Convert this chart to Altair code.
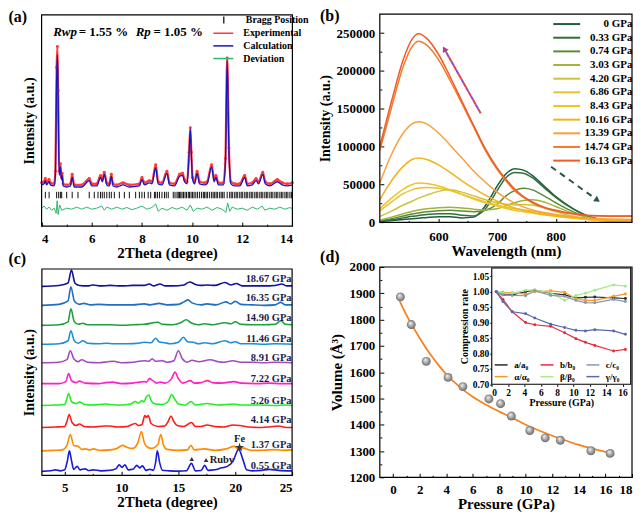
import altair as alt
import pandas as pd

FONT = "Liberation Serif"

# ---------------- (a) Rietveld refinement ----------------
a_line_names = ["Experimental", "Calculation", "Deviation"]
a_line_colors = ["#ff3b3b", "#1515c8", "#2db86e"]
a_bragg_name = ["Bragg Position"]
# (2theta, calculation, experimental)
a_profile = [
    (4.00, 19.5, 20.5), (4.10, 20.0, 21.0), (4.15, 21.5, 22.5), (4.20, 19.5, 20.5), (4.30, 21.0, 22.0),
    (4.35, 19.5, 20.5), (4.50, 19.0, 20.0), (4.55, 24.0, 26.0), (4.60, 70.0, 75.0), (4.63, 81.0, 85.0),
    (4.66, 60.0, 64.0), (4.70, 24.0, 26.0), (4.75, 28.0, 29.5), (4.79, 22.0, 23.0), (4.82, 24.0, 25.0),
    (4.86, 19.0, 20.0), (5.00, 18.5, 19.5), (5.15, 19.0, 20.0), (5.22, 23.0, 24.5), (5.30, 18.5, 19.5),
    (5.60, 18.5, 19.5), (5.90, 21.5, 22.5), (6.00, 19.0, 20.0), (6.20, 19.0, 20.0), (6.35, 23.0, 24.0),
    (6.42, 21.0, 22.0), (6.50, 24.5, 25.5), (6.60, 19.5, 20.5), (6.70, 19.0, 20.0), (6.78, 23.5, 24.5),
    (6.85, 19.0, 20.0), (7.00, 18.5, 19.5), (7.25, 19.5, 20.5), (7.50, 18.5, 19.5), (7.90, 19.0, 20.0),
    (8.00, 22.0, 23.0), (8.10, 19.5, 20.5), (8.30, 20.5, 21.5), (8.40, 20.0, 21.0), (8.55, 27.5, 29.0),
    (8.65, 20.0, 21.0), (8.80, 19.5, 20.5), (9.00, 25.0, 26.0), (9.10, 19.5, 20.5), (9.30, 19.0, 20.0),
    (9.50, 23.5, 24.5), (9.62, 24.0, 25.0), (9.70, 21.0, 22.0), (9.80, 20.0, 21.0), (9.88, 34.0, 35.0),
    (9.93, 46.0, 46.5), (9.97, 34.0, 35.0), (10.02, 22.0, 23.0), (10.10, 20.0, 21.0), (10.20, 25.0, 26.0),
    (10.30, 20.0, 21.0), (10.50, 19.5, 20.5), (10.60, 20.0, 21.0), (10.78, 28.0, 29.0), (10.88, 21.0, 22.0),
    (10.95, 23.0, 24.0), (11.05, 19.5, 20.5), (11.25, 19.5, 20.5), (11.33, 30.0, 32.0), (11.40, 78.5, 79.5),
    (11.47, 35.0, 37.0), (11.55, 20.0, 21.0), (11.70, 19.0, 20.0), (11.90, 19.0, 20.0), (12.10, 23.0, 24.0),
    (12.20, 19.0, 20.0), (12.40, 19.5, 20.5), (12.55, 21.5, 22.5), (12.65, 20.0, 21.0), (12.82, 24.5, 25.5),
    (12.92, 20.0, 21.0), (13.10, 19.0, 20.0), (13.40, 21.0, 22.0), (13.60, 19.5, 20.5), (13.80, 19.0, 20.0),
    (14.00, 19.5, 20.5),
]
a_deviation = [
    (4.0, 8.5), (4.1, 9.5), (4.2, 8.0), (4.3, 9.0), (4.4, 7.5), (4.5, 8.5), (4.58, 6.0), (4.62, 12.0),
    (4.66, 5.5), (4.72, 10.0), (4.8, 7.5), (5.0, 8.5), (5.2, 8.0), (5.4, 9.0), (5.6, 8.0), (5.8, 9.0),
    (6.0, 8.0), (6.2, 8.5), (6.4, 9.5), (6.5, 7.5), (6.6, 9.0), (6.8, 8.0), (7.0, 9.0), (7.2, 8.0),
    (7.4, 8.8), (7.6, 7.8), (7.8, 8.5), (8.0, 9.5), (8.2, 8.0), (8.4, 8.8), (8.55, 10.5), (8.65, 7.0),
    (8.8, 8.5), (9.0, 7.5), (9.2, 8.8), (9.4, 8.0), (9.6, 9.0), (9.8, 7.5), (9.93, 10.0), (10.05, 7.0),
    (10.2, 8.5), (10.4, 8.0), (10.6, 9.0), (10.8, 7.5), (11.0, 8.8), (11.2, 8.0), (11.35, 6.5),
    (11.42, 11.0), (11.5, 7.0), (11.6, 9.0), (11.8, 8.0), (12.0, 8.5), (12.2, 7.5), (12.4, 9.0),
    (12.6, 8.0), (12.8, 9.5), (12.9, 7.5), (13.1, 8.5), (13.3, 8.0), (13.5, 9.0), (13.7, 8.0),
    (13.9, 8.8), (14.0, 8.2),
]
a_bragg = [
    4.15, 4.30, 4.60, 4.68, 4.75, 4.80, 5.00, 5.22, 5.45, 5.90, 6.10, 6.25, 6.35, 6.42, 6.50, 6.60,
    6.70, 6.78, 6.90, 7.10, 7.30, 7.50, 7.75, 7.90, 8.00, 8.10, 8.25, 8.35, 8.50, 8.55, 8.62, 8.70,
    8.80, 8.90, 8.97, 9.05, 9.25, 9.32, 9.40, 9.45, 9.50, 9.55, 9.60, 9.66, 9.72, 9.78, 9.85, 9.90,
    9.96, 10.02, 10.08, 10.15, 10.22, 10.30, 10.38, 10.45, 10.50, 10.56, 10.62, 10.70, 10.78, 10.84,
    10.90, 10.96, 11.02, 11.10, 11.16, 11.22, 11.28, 11.40, 11.50, 11.56, 11.62, 11.70, 11.76, 11.82,
    11.90, 11.96, 12.02, 12.10, 12.16, 12.22, 12.30, 12.36, 12.42, 12.50, 12.56, 12.62, 12.70, 12.76,
    12.82, 12.90, 12.96, 13.02, 13.10, 13.16, 13.22, 13.30, 13.36, 13.42, 13.50, 13.56, 13.62, 13.70,
    13.76, 13.82, 13.90, 13.96,
]
a_bragg_level = 14.7
a_stats = [("Rwp", "= 1.55 %"), ("Rp", "= 1.05 %")]
a_stats_x = [(4.46, 5.48), (7.75, 8.46)]
a_stats_y = 91.7

# ---------------- (b) photoluminescence ----------------
b_nm = [500, 520, 540, 555, 566, 580, 600, 620, 640, 660, 680, 700, 715, 730, 745, 760, 780, 800, 830, 860, 890, 930]
b_p0 = [1000, 2500, 4000, 5000, 5500, 6500, 7500, 7500, 6000, 7000, 22000, 48000, 64000, 71000, 69000, 62000, 48000, 34000, 18000, 7000, 2500, 1000]
b_p033 = [1500, 3500, 6000, 8000, 9000, 10500, 11500, 11500, 9500, 8500, 18000, 42000, 59000, 66000, 65000, 59000, 46000, 33000, 17500, 7000, 2500, 1000]
b_p074 = [2000, 5000, 8500, 11000, 12500, 14000, 15500, 16000, 15000, 14000, 16000, 24000, 35000, 42000, 45000, 43000, 35000, 26000, 14000, 6000, 2500, 1000]
b_p303 = [3000, 7000, 11500, 14500, 16500, 18000, 19500, 20000, 19000, 17500, 16500, 18000, 22000, 26000, 29000, 30000, 27000, 21000, 12000, 5500, 2500, 1000]
b_p420 = [8000, 15000, 23000, 28000, 32000, 36000, 41000, 43000, 40000, 35000, 30000, 26000, 24000, 23000, 23500, 23000, 19000, 14000, 8000, 4000, 2000, 1000]
b_p686 = [15000, 27000, 38000, 43000, 45500, 46000, 45000, 42000, 37000, 32000, 27000, 23000, 20000, 18000, 16500, 15000, 12000, 9500, 6000, 3500, 2000, 1500]
b_p843 = [18000, 32000, 44000, 50000, 52000, 51500, 48000, 43000, 37000, 31000, 26000, 21500, 18500, 16000, 14000, 12500, 10000, 8000, 5500, 3500, 2500, 2000]
b_p1016 = [30000, 55000, 74000, 83000, 85000, 83000, 76000, 66000, 55000, 45000, 36000, 28000, 23000, 19000, 16000, 13500, 10500, 8500, 6000, 4000, 3000, 2500]
b_p1339 = [52000, 90000, 118000, 130000, 133000, 130000, 118000, 102000, 85000, 68000, 53000, 40000, 32000, 25500, 20500, 16500, 13000, 10500, 7500, 5500, 4500, 4000]
b_p1474 = [95000, 152000, 206000, 232000, 239000, 234000, 215000, 187000, 157000, 126000, 95000, 70000, 55000, 42000, 33000, 26000, 19500, 15500, 11000, 8800, 8300, 8300]
b_p1613 = [100000, 160000, 215000, 242000, 249000, 243000, 222000, 192000, 160000, 128000, 97000, 72000, 57000, 44000, 34000, 27000, 20000, 16000, 11500, 9000, 8500, 8500]
b_names = ["0 GPa", "0.33 GPa", "0.74 GPa", "3.03 GPa", "4.20 GPa", "6.86 GPa", "8.43 GPa",
           "10.16 GPa", "13.39 GPa", "14.74 GPa", "16.13 GPa"]
b_series = [b_p0, b_p033, b_p074, b_p303, b_p420, b_p686, b_p843, b_p1016, b_p1339, b_p1474, b_p1613]
b_colors = ["#1d5e3c", "#2f6f3b", "#5c8c38", "#a2b23a", "#c9c43c", "#e6c232", "#f4c31c",
            "#f2b31a", "#f6a23c", "#f27a2c", "#f05a26"]
b_arrows = [  # (nm start, I start, nm end, I end)
    (672, 144000, 610, 229000),
    (792, 73500, 871, 29500),
]

# ---------------- (c) in-situ XRD ----------------
c_names = ["0.55 GPa", "1.37 GPa", "4.14 GPa", "5.26 GPa", "7.22 GPa", "8.91 GPa",
           "11.46 GPa", "14.90 GPa", "16.35 GPa", "18.67 GPa"]
c_colors = ["#1a1ad8", "#ff8a00", "#ff1a1a", "#22ee22", "#ff1ec8", "#a04cc0",
            "#1e8fd0", "#1fa03c", "#1f6fc4", "#12129a"]
c_offsets = [3, 24, 47, 69, 91, 112, 131, 150, 170, 189]
c_label_y = [9, 30, 55, 75, 97, 118, 137, 158, 178, 197]
c_p055 = [(3, 1), (3.8, 1.5), (4.2, 2.5), (4.6, 1.5), (5.0, 2.5), (5.25, 12), (5.42, 21.5), (5.6, 12), (5.8, 3),
          (6.1, 6), (6.35, 2.5), (6.8, 3.5), (7.1, 1.8), (7.5, 2.5), (8.2, 1.5), (9.0, 2), (9.5, 3.5), (9.8, 7.5),
          (10.05, 5), (10.3, 7.5), (10.6, 2.5), (11.0, 3), (11.35, 7), (11.6, 4.5), (11.85, 6.5), (12.15, 2),
          (12.5, 3), (12.8, 2), (13.0, 10), (13.15, 21.5), (13.35, 10), (13.6, 2), (14.2, 1.5), (15.0, 1.2),
          (15.7, 1.5), (16.15, 9), (16.5, 1.5), (17.0, 1.8), (17.32, 7), (17.6, 2), (18.2, 2.5), (18.8, 4.5),
          (19.3, 6), (19.8, 11), (20.3, 23), (20.7, 12), (21.0, 2.5), (21.5, 1.5), (22.3, 2), (23.0, 3),
          (23.8, 2), (25, 1.5)]
c_p137 = [(3, 0.5), (4, 1), (4.8, 1.5), (5.2, 6), (5.5, 17), (5.8, 6), (6.2, 5), (6.5, 2), (6.85, 2.5), (7.2, 1.5),
          (7.5, 2.5), (8.2, 1), (9.0, 1.5), (9.6, 3), (10.1, 6), (10.5, 4), (11.0, 3), (11.45, 9), (11.75, 20),
          (12.0, 9), (12.2, 5), (12.6, 3), (13.2, 7), (13.45, 17), (13.7, 6), (14.0, 2), (15.0, 1), (15.8, 1.5),
          (16.1, 6), (16.4, 1.5), (17.3, 2.5), (18.2, 1), (19.2, 2.5), (19.9, 5), (20.2, 3), (20.6, 3.5),
          (21.5, 1), (22.5, 1.2), (23.5, 1.8), (24.2, 1), (25, 1.5)]
c_p414 = [(3, 1), (4.2, 1.5), (5.0, 2), (5.2, 7), (5.4, 14), (5.65, 6), (6.0, 3), (6.3, 4.5), (6.7, 2), (7.5, 1.5),
          (8.5, 2.5), (9.0, 2.5), (9.6, 1.5), (10.5, 2), (11.2, 5), (11.5, 3), (11.8, 4), (12.05, 13), (12.2, 11),
          (12.35, 13), (12.6, 5), (13.2, 2), (13.8, 2.5), (14.1, 7), (14.35, 12.5), (14.6, 7), (14.9, 3),
          (15.5, 2), (16.15, 6), (16.5, 2), (17.0, 2), (17.5, 3.5), (18.2, 2), (19.0, 1.5), (19.8, 3.5),
          (20.4, 3), (21.2, 1.5), (22.3, 1), (23.0, 1.5), (23.8, 2.5), (24.5, 1), (25, 1)]
c_p526 = [(3, 1), (4.2, 1.5), (5.0, 2), (5.15, 6), (5.35, 13), (5.6, 5), (6.0, 3), (6.3, 4.5), (6.8, 2), (7.5, 1.5),
          (8.5, 2.5), (9.0, 2), (10.0, 1.5), (10.8, 2.5), (11.2, 5), (11.5, 3.5), (11.8, 6), (11.95, 4.5),
          (12.2, 10), (12.4, 11.5), (12.65, 5), (13.0, 2.5), (13.6, 2), (14.1, 5), (14.4, 12), (14.7, 7),
          (15.0, 2.5), (15.6, 1.5), (16.1, 5), (16.5, 1.5), (17.5, 3), (18.5, 1.5), (19.8, 2.5), (20.5, 1.5),
          (22, 1.5), (23.5, 1), (24.5, 1.5), (25, 1)]
c_p722 = [(3, 1), (4.5, 1), (5.1, 3), (5.35, 11), (5.6, 4), (6.0, 2), (6.3, 3.5), (6.8, 1.5), (8.0, 1), (8.6, 2),
          (9.2, 2.5), (10.0, 1), (11.0, 1.5), (11.6, 2.5), (12.0, 3), (12.2, 2.5), (12.45, 6), (12.75, 4),
          (13.1, 1.5), (13.4, 2.5), (13.8, 1.5), (14.4, 6), (14.7, 12.5), (15.0, 6), (15.4, 1.5), (16.05, 4),
          (16.4, 1.5), (17.0, 2), (17.55, 4), (18.0, 2), (18.8, 1.5), (19.9, 3), (20.5, 1.5), (22, 1),
          (23, 1.5), (24, 1), (25, 1)]
c_p891 = [(3, 1), (4.5, 1.5), (5.2, 4), (5.5, 13), (5.8, 5), (6.2, 2), (6.5, 4), (7.0, 1.5), (8.0, 1), (8.8, 2),
          (9.3, 2.5), (10.0, 1), (11.0, 1.5), (12.0, 3), (12.4, 2.5), (12.7, 5), (13.0, 2.5), (13.6, 3),
          (14.0, 1.5), (14.6, 3), (15.0, 13), (15.35, 5), (15.8, 1.5), (16.2, 3.5), (16.8, 2), (17.8, 4),
          (18.5, 2), (19.0, 1.5), (19.8, 3), (20.5, 1.5), (21.5, 1.5), (22.5, 1), (23.5, 1.5), (25, 1)]
c_p1146 = [(3, 0.5), (4.5, 1), (5.3, 4), (5.55, 14), (5.85, 4), (6.2, 1.5), (6.6, 4), (7.0, 1.5), (8.0, 1),
           (8.7, 1.5), (9.3, 1), (10.5, 1), (11.5, 1.5), (12.0, 2.5), (12.6, 2), (13.0, 6.5), (13.3, 3),
           (13.8, 2), (14.3, 1), (15.0, 2.5), (15.45, 7.5), (15.8, 3), (16.3, 2.5), (16.8, 1), (17.3, 2),
           (18.0, 1), (19.1, 4), (19.6, 2), (20.0, 3), (20.5, 1), (21.5, 1), (22.5, 0.5), (23.5, 1), (25, 0.5)]
c_p1490 = [(3, 0.5), (4.5, 1), (5.3, 4), (5.55, 17), (5.85, 4), (6.2, 1.5), (6.6, 2.5), (7.0, 1), (8.0, 1),
           (9.0, 1), (10.0, 0.5), (11.0, 1), (12.0, 1.5), (13.2, 3.5), (13.6, 1.5), (14.5, 1), (15.2, 3),
           (15.7, 6), (16.1, 3), (16.8, 1), (17.3, 2), (18.0, 1), (19.1, 3), (19.6, 2), (20.0, 4), (20.5, 1.5),
           (21.5, 1), (22.5, 1), (23.5, 1.5), (24.0, 5), (24.4, 1.5), (25, 1)]
c_p1635 = [(3, 0.5), (4.5, 1.5), (5.3, 5), (5.55, 19), (5.85, 5), (6.3, 1.5), (6.7, 2.5), (7.2, 1), (8.0, 1.5),
           (9.0, 1), (10.0, 1), (11.0, 1), (12.0, 2), (12.5, 1), (13.3, 2.5), (14.0, 1), (15.0, 1.5), (15.5, 4),
           (15.85, 6), (16.2, 3), (17.0, 1), (17.5, 2), (18.3, 1), (19.2, 4), (19.6, 2), (20.0, 4.5), (20.5, 1.5),
           (21.5, 1), (22.5, 0.5), (23.5, 1), (24.0, 3.5), (24.4, 1), (25, 1)]
c_p1867 = [(3, 0.5), (4.5, 1.5), (5.3, 4), (5.6, 17), (5.9, 4), (6.3, 1.5), (7.0, 1), (7.5, 2), (8.2, 1),
           (9.0, 1.5), (10.0, 1), (11.0, 1.5), (12.0, 1.5), (12.45, 3), (12.8, 1), (13.4, 3), (13.8, 1),
           (14.5, 1), (15.5, 2), (16.0, 5), (16.5, 2.5), (17.0, 1.5), (17.5, 2), (18.2, 1.5), (19.1, 4.5),
           (19.6, 2), (20.1, 3.5), (20.6, 1), (21.5, 1), (22.5, 1), (23.5, 1.5), (24.1, 3), (24.5, 1), (25, 1)]
c_series = [c_p055, c_p137, c_p414, c_p526, c_p722, c_p891, c_p1146, c_p1490, c_p1635, c_p1867]
c_ruby_x = [16.18, 17.44]
c_ruby_y = [16.3, 15.3]
c_fe = (20.38, 28.0)

# ---------------- (d) volume vs pressure ----------------
d_p = [0.55, 1.37, 2.5, 4.14, 5.26, 7.22, 8.1, 8.91, 10.3, 11.46, 12.6, 14.9, 16.35]
d_v = [1886, 1781, 1641, 1580, 1545, 1498, 1480, 1433, 1378, 1350, 1341, 1301, 1291]
d_fit_p = [0.5, 1, 1.5, 2, 2.5, 3, 3.5, 4, 5, 6, 7, 8, 9, 10, 11, 12, 13, 14, 15, 16, 16.4]
d_fit_v = [1870, 1818, 1772, 1730, 1690, 1655, 1622, 1592, 1545, 1506, 1476, 1450, 1426, 1400, 1378,
           1358, 1340, 1323, 1309, 1297, 1293]
in_p = [0.55, 1.37, 2.5, 4.14, 5.26, 7.22, 8.91, 10.3, 11.46, 12.6, 14.9, 16.35]
in_a = [1.000, 0.990, 0.990, 1.000, 1.005, 0.995, 0.990, 0.980, 0.982, 0.983, 0.980, 0.978]
in_b = [1.000, 0.975, 0.935, 0.900, 0.893, 0.888, 0.867, 0.848, 0.836, 0.826, 0.808, 0.813]
in_c = [1.000, 0.990, 0.988, 0.987, 1.003, 0.988, 0.985, 0.972, 0.965, 0.964, 0.975, 0.968]
in_al = [1.000, 0.998, 0.997, 0.992, 1.000, 1.003, 0.998, 0.978, 0.972, 0.972, 0.985, 0.993]
in_be = [1.000, 0.995, 0.995, 1.005, 1.005, 0.997, 0.972, 0.988, 0.995, 1.005, 1.022, 1.018]
in_ga = [1.000, 0.968, 0.935, 0.929, 0.915, 0.895, 0.884, 0.875, 0.873, 0.877, 0.873, 0.862]
# listed column by column so that the 3-column legend reads a, b, c / alpha, beta, gamma
in_names = ["a/a\u2080", "\u03b1/\u03b1\u2080", "b/b\u2080", "\u03b2/\u03b2\u2080", "c/c\u2080", "\u03b3/\u03b3\u2080"]
in_series = [in_a, in_al, in_b, in_be, in_c, in_ga]
in_colors = ["#2b2b2b", "#f39a28", "#ee2a3a", "#a6e88a", "#8a96b0", "#5a6aa8"]

# axis tick values (major / minor)
a_xt = ([4, 6, 8, 10, 12, 14], [5, 7, 9, 11, 13])
b_xt = ([600, 700, 800], [550, 650, 750, 850])
b_yt = ([0, 50000, 100000, 150000, 200000, 250000], [25000, 75000, 125000, 175000, 225000])
c_xt = ([5, 10, 15, 20, 25], [7.5, 12.5, 17.5, 22.5])
d_xt = (list(range(0, 19, 2)), list(range(1, 18, 2)))
d_yt = (list(range(1200, 2001, 100)), list(range(1250, 2000, 100)))

# panel labels, in each panel's own data units (placed outside the plot area)
lab_a = (2.68, 96.5)
lab_b = (398, 266000)
lab_c = (0.06, 212)
lab_d = (-5.5, 2020)

# ================= layout (pixels inside the single 628x506 view) =================
W, H = 628, 506
PA = dict(x=(33.7, 285.3), y=(218, 6))
PB = dict(x=(373, 626), y=(214.3, 5.3))
PC = dict(x=(34, 285), y=(468, 261))
PD = dict(x=(373, 626), y=(470, 259))
PI = dict(x=(485.3, 624.7), y=(376.7, 260))

BAR = "M0,-1L0,1"
HLINE = "M-2,0L2,0"
STAR = ("M0,-1L0.2245,-0.309L0.951,-0.309L0.363,0.118L0.588,0.809L0,0.382L-0.588,0.809"
        "L-0.363,0.118L-0.951,-0.309L-0.2245,-0.309Z")

lbl = dict(font=FONT, fontWeight="bold")


def xaxis(p, **kw):
    base = dict(orient="bottom", offset=p["y"][0] - H, domain=False, ticks=False, labelPadding=6,
                titlePadding=0)
    base.update(kw)
    return alt.Axis(**base)


def yaxis(p, **kw):
    base = dict(orient="left", offset=-p["x"][0], domain=False, ticks=False, labelPadding=5)
    base.update(kw)
    return alt.Axis(**base)


def frame(xf, yf, x0, x1, y0, y1, fill=None):
    df = pd.DataFrame({xf: [x0], xf + "2": [x1], yf: [y0], yf + "2": [y1]})
    if fill:
        return alt.Chart(df).mark_rect(fill=fill, stroke="black", strokeWidth=1.1)
    return alt.Chart(df).mark_rect(filled=False, stroke="black", strokeWidth=1.2)


def inward_ticks(p, xdom, ydom, xvals, yvals, size):
    """Invisible frame carrying tick-only axes that point into the plot."""
    df = pd.DataFrame({"tx": [xdom[0]], "tx2": [xdom[1]], "ty": [ydom[0]], "ty2": [ydom[1]]})
    tx = alt.X("tx:Q", scale=alt.Scale(domain=list(xdom), range=list(p["x"]), nice=False),
               axis=alt.Axis(orient="top", offset=-p["y"][0], values=xvals, labels=False, domain=False,
                             tickSize=size, tickColor="black", tickWidth=1, title=None, grid=False))
    if yvals:
        y_axis = alt.Axis(orient="right", offset=p["x"][0] - W, values=yvals, labels=False, domain=False,
                          tickSize=size, tickColor="black", tickWidth=1, title=None, grid=False)
    else:
        y_axis = None
    ty = alt.Y("ty:Q", scale=alt.Scale(domain=list(ydom), range=list(p["y"]), nice=False, zero=False),
               axis=y_axis)
    return alt.Chart(df).mark_rect(opacity=0).encode(x=tx, x2="tx2:Q", y=ty, y2="ty2:Q")


def panel_label(text, pos, ax, ay):
    df = pd.DataFrame({ax.shorthand.split(":")[0]: [pos[0]], ay.shorthand.split(":")[0]: [pos[1]], "t": [text]})
    return alt.Chart(df).mark_text(align="left", baseline="alphabetic", fontSize=16, color="black",
                                   **lbl).encode(x=ax, y=ay, text="t:N")


# ---- (a)
ax_a = alt.X("x:Q", scale=alt.Scale(domain=[4, 14], range=list(PA["x"]), nice=False),
             axis=xaxis(PA, values=a_xt[0], title="2Theta (degree)"))
ay_a = alt.Y("y:Q", scale=alt.Scale(domain=[0, 100], range=list(PA["y"]), nice=False),
             axis=yaxis(PA, labels=False, title="Intensity (a.u.)", titleFontSize=14, titlePadding=5))
leg_a = dict(title=None, orient="none", padding=0, labelFont=FONT, labelFontSize=10,
             labelFontWeight="bold", labelColor="black")
a_color = alt.Color("s:N", scale=alt.Scale(domain=a_line_names, range=a_line_colors),
                    legend=alt.Legend(legendX=205, legendY=18.5, symbolType=HLINE, symbolSize=100,
                                      symbolOffset=5, symbolStrokeWidth=1.5, labelOffset=14,
                                      rowPadding=1.7, **leg_a))
a_shape = alt.Shape("s:N", scale=alt.Scale(domain=a_bragg_name, range=[BAR]),
                    legend=alt.Legend(legendX=205, legendY=6.3, symbolSize=49, symbolOffset=6.5,
                                      symbolStrokeColor="black", symbolStrokeWidth=1.2,
                                      labelOffset=17, **leg_a))
df_exp = pd.DataFrame({"x": [p[0] for p in a_profile], "y": [p[2] for p in a_profile], "s": "Experimental"})
df_calc = pd.DataFrame({"x": [p[0] for p in a_profile], "y": [p[1] for p in a_profile], "s": "Calculation"})
df_dev = pd.DataFrame({"x": [p[0] for p in a_deviation], "y": [p[1] for p in a_deviation], "s": "Deviation"})
df_bragg = pd.DataFrame({"x": a_bragg, "y": a_bragg_level, "s": "Bragg Position"})
df_stats_i = pd.DataFrame({"x": [a_stats_x[0][0], a_stats_x[1][0]], "y": a_stats_y,
                           "t": [a_stats[0][0], a_stats[1][0]]})
df_stats_n = pd.DataFrame({"x": [a_stats_x[0][1], a_stats_x[1][1]], "y": a_stats_y,
                           "t": [a_stats[0][1], a_stats[1][1]]})
panel_a = alt.layer(
    alt.Chart(df_exp).mark_line(strokeWidth=2.2, interpolate="monotone",
                                point=alt.OverlayMarkDef(filled=True, size=9, color="#ff5a5a")).encode(
        x=ax_a, y=ay_a, color=a_color),
    alt.Chart(df_calc).mark_line(strokeWidth=1.3, interpolate="monotone").encode(x=ax_a, y=ay_a, color=a_color),
    alt.Chart(df_dev).mark_line(strokeWidth=1).encode(x=ax_a, y=ay_a, color=a_color),
    alt.Chart(df_bragg).mark_point(size=42, strokeWidth=1, opacity=1, color="#111111").encode(
        x=ax_a, y=ay_a, shape=a_shape),
    alt.Chart(df_stats_i).mark_text(align="left", baseline="middle", fontSize=13, fontStyle="italic",
                                    color="black", **lbl).encode(x=ax_a, y=ay_a, text="t:N"),
    alt.Chart(df_stats_n).mark_text(align="left", baseline="middle", fontSize=13, color="black",
                                    **lbl).encode(x=ax_a, y=ay_a, text="t:N"),
    frame("x", "y", 4, 14, 0, 100).encode(x=ax_a, x2="x2:Q", y=ay_a, y2="y2:Q"),
    panel_label("(a)", lab_a, ax_a, ay_a),
)

# ---- (b)
rows = []
for name, vals in zip(b_names, b_series):
    for x, v in zip(b_nm, vals):
        rows.append({"nm": x, "I": v, "s": name})
df_b = pd.DataFrame(rows)
ax_b = alt.X("nm:Q", scale=alt.Scale(domain=[500, 930], range=list(PB["x"]), nice=False),
             axis=xaxis(PB, values=b_xt[0], title="Wavelength (nm)", labelPadding=8))
ay_b = alt.Y("I:Q", scale=alt.Scale(domain=[0, 275000], range=list(PB["y"]), nice=False),
             axis=yaxis(PB, values=b_yt[0], format="d", title="Intensity (a.u.)", titleFontSize=14,
                        titlePadding=3))
df_arr = pd.DataFrame([{"nm": a[0], "I": a[1], "nm2": a[2], "I2": a[3]} for a in b_arrows])
df_head = pd.DataFrame([{"nm": a[2], "I": a[3]} for a in b_arrows])
panel_b = alt.layer(
    alt.Chart(df_b).mark_line(strokeWidth=1.5, interpolate="monotone").encode(
        x=ax_b, y=ay_b,
        color=alt.Color("s:N", scale=alt.Scale(domain=b_names, range=b_colors), sort=b_names,
                        legend=alt.Legend(title=None, orient="none", legendX=545.5, legendY=7.3, padding=0,
                                          labelFont=FONT, labelFontSize=11, labelFontWeight="bold",
                                          labelColor="black", labelAlign="right", labelOffset=58,
                                          symbolType=HLINE, symbolStrokeWidth=2, symbolSize=182,
                                          symbolOffset=7, rowPadding=0.7))),
    alt.Chart(df_arr.iloc[[0]]).mark_rule(strokeWidth=2, strokeDash=[5, 5], color="#e8403c").encode(
        x=ax_b, y=ay_b, x2="nm2:Q", y2="I2:Q"),
    alt.Chart(df_arr.iloc[[0]]).mark_rule(strokeWidth=2, strokeDash=[5, 5], strokeDashOffset=5,
                                          color="#8a4cc8").encode(x=ax_b, y=ay_b, x2="nm2:Q", y2="I2:Q"),
    alt.Chart(df_arr.iloc[[1]]).mark_rule(strokeWidth=2, strokeDash=[6, 5], color="#2a5a3c").encode(
        x=ax_b, y=ay_b, x2="nm2:Q", y2="I2:Q"),
    alt.Chart(df_head.iloc[[0]]).mark_point(shape="triangle-up", filled=True, size=45, angle=330,
                                            color="#b04090", opacity=1).encode(x=ax_b, y=ay_b),
    alt.Chart(df_head.iloc[[1]]).mark_point(shape="triangle-up", filled=True, size=45, angle=125,
                                            color="#2a5a3c", opacity=1).encode(x=ax_b, y=ay_b),
    frame("nm", "I", 500, 930, 0, 275000).encode(x=ax_b, x2="nm2:Q", y=ay_b, y2="I2:Q"),
    panel_label("(b)", lab_b, ax_b, ay_b),
)

# ---- (c)
rows = []
for name, off, pts in zip(c_names, c_offsets, c_series):
    for x, v in pts:
        rows.append({"t2": x, "ic": v + off, "s": name})
df_c = pd.DataFrame(rows)
ax_c = alt.X("t2:Q", scale=alt.Scale(domain=[3, 25], range=list(PC["x"]), nice=False),
             axis=xaxis(PC, values=c_xt[0], title="2Theta (degree)"))
ay_c = alt.Y("ic:Q", scale=alt.Scale(domain=[0, 207], range=list(PC["y"]), nice=False),
             axis=yaxis(PC, labels=False, title="Intensity (a.u.)", titleFontSize=14, titlePadding=5))
df_cl = pd.DataFrame({"t2": 24.95, "ic": c_label_y, "t": c_names})
df_ruby = pd.DataFrame({"t2": c_ruby_x, "ic": c_ruby_y})
df_ruby_t = pd.DataFrame({"t2": [17.75], "ic": [15.6], "t": ["Ruby"]})
df_fe = pd.DataFrame({"t2": [c_fe[0]], "ic": [c_fe[1]]})
df_fe_t = pd.DataFrame({"t2": [c_fe[0]], "ic": [c_fe[1] + 8.5], "t": ["Fe"]})
panel_c = alt.layer(
    alt.Chart(df_c).mark_line(strokeWidth=1.6, interpolate="monotone").encode(
        x=ax_c, y=ay_c, color=alt.Color("s:N", scale=alt.Scale(domain=c_names, range=c_colors), legend=None)),
    alt.Chart(df_cl).mark_text(align="right", baseline="middle", fontSize=10.5, color="#1c1c48",
                               **lbl).encode(x=ax_c, y=ay_c, text="t:N"),
    alt.Chart(df_ruby).mark_point(shape="triangle-up", filled=True, size=22, color="#333333",
                                  opacity=1).encode(x=ax_c, y=ay_c),
    alt.Chart(df_ruby_t).mark_text(align="left", baseline="middle", fontSize=10.5, color="#222222",
                                   **lbl).encode(x=ax_c, y=ay_c, text="t:N"),
    alt.Chart(df_fe).mark_point(shape=STAR, filled=True, size=90, color="#333333", opacity=1).encode(
        x=ax_c, y=ay_c),
    alt.Chart(df_fe_t).mark_text(align="center", baseline="middle", fontSize=10.5, color="#222222",
                                 **lbl).encode(x=ax_c, y=ay_c, text="t:N"),
    frame("t2", "ic", 3, 25, 0, 207).encode(x=ax_c, x2="t22:Q", y=ay_c, y2="ic2:Q"),
    panel_label("(c)", lab_c, ax_c, ay_c),
)

# ---- (d)
ax_d = alt.X("p:Q", scale=alt.Scale(domain=[-1, 18], range=list(PD["x"]), nice=False),
             axis=xaxis(PD, values=d_xt[0], title="Pressure (GPa)"))
ay_d = alt.Y("v:Q", scale=alt.Scale(domain=[1200, 2000], range=list(PD["y"]), nice=False),
             axis=yaxis(PD, values=d_yt[0], format="d", title="Volume (\u00c5\u00b3)",
                        titleFontSize=15, titlePadding=4))
sphere = alt.RadialGradient(gradient="radial",
                            stops=[alt.GradientStop(offset=0, color="#f2f2f2"),
                                   alt.GradientStop(offset=1, color="#5e5e5e")],
                            x1=0.38, y1=0.32, r1=0.02, x2=0.5, y2=0.5, r2=0.55)
panel_d = alt.layer(
    alt.Chart(pd.DataFrame({"p": d_fit_p, "v": d_fit_v})).mark_line(
        color="#f58220", strokeWidth=1.8, interpolate="monotone").encode(x=ax_d, y=ay_d),
    alt.Chart(pd.DataFrame({"p": d_p, "v": d_v})).mark_circle(size=80, color=sphere, opacity=1).encode(
        x=ax_d, y=ay_d),
    frame("p", "v", -1, 18, 1200, 2000).encode(x=ax_d, x2="p2:Q", y=ay_d, y2="v2:Q"),
    panel_label("(d)", lab_d, ax_d, ay_d),
)

# ---- inset of (d)
ix = alt.X("pi:Q", scale=alt.Scale(domain=[0, 17], range=list(PI["x"]), nice=False),
           axis=xaxis(PI, values=list(range(0, 17, 2)), labelFontSize=9.5, title="Pressure (GPa)",
                      titleFontSize=10, ticks=True, tickSize=2, labelPadding=1, titlePadding=1))
iy = alt.Y("r:Q", scale=alt.Scale(domain=[0.70, 1.077], range=list(PI["y"]), nice=False, zero=False),
           axis=yaxis(PI, values=[0.70, 0.75, 0.80, 0.85, 0.90, 0.95, 1.00, 1.05], format=".2f",
                      labelFontSize=9.5, title="Compression rate", titleFontSize=10, ticks=True, tickSize=2,
                      labelPadding=1, titlePadding=3))
rows = []
for name, vals in zip(in_names, in_series):
    for x, v in zip(in_p, vals):
        rows.append({"pi": x, "r": v, "s": name})
df_in = pd.DataFrame(rows)
panel_i = alt.layer(
    frame("pi", "r", 0, 17, 0.70, 1.077, fill="white").encode(x=ix, x2="pi2:Q", y=iy, y2="r2:Q"),
    alt.Chart(df_in).mark_line(strokeWidth=1.2, point=alt.OverlayMarkDef(size=9, filled=True)).encode(
        x=ix, y=iy,
        color=alt.Color("s:N", scale=alt.Scale(domain=in_names, range=in_colors), sort=in_names,
                        legend=alt.Legend(title=None, orient="none", legendX=487, legendY=352.5, columns=3,
                                          labelFont=FONT, labelFontSize=9, labelFontWeight="bold",
                                          labelColor="black", symbolType=HLINE, symbolSize=42,
                                          symbolOffset=3.25, symbolStrokeWidth=1.5, columnPadding=8,
                                          rowPadding=2, labelOffset=8.5, padding=0))),
)

ticks = [
    inward_ticks(PA, (4, 14), (0, 100), a_xt[0], None, 4),
    inward_ticks(PA, (4, 14), (0, 100), a_xt[1], None, 2),
    inward_ticks(PB, (500, 930), (0, 275000), b_xt[0], b_yt[0], 4),
    inward_ticks(PB, (500, 930), (0, 275000), b_xt[1], b_yt[1], 2),
    inward_ticks(PC, (3, 25), (0, 207), c_xt[0], None, 4),
    inward_ticks(PC, (3, 25), (0, 207), c_xt[1], None, 2),
    inward_ticks(PD, (-1, 18), (1200, 2000), d_xt[0], d_yt[0], 4),
    inward_ticks(PD, (-1, 18), (1200, 2000), d_xt[1], d_yt[1], 2),
]

chart = alt.layer(panel_a, panel_b, panel_c, panel_d, panel_i, *ticks).resolve_scale(
    x="independent", y="independent", color="independent", shape="independent"
).properties(
    width=W, height=H, autosize=alt.AutoSizeParams(type="none"), padding=0, background="white"
).configure_view(stroke=None).configure_axis(
    labelFont=FONT, titleFont=FONT, labelFontWeight="bold", titleFontWeight="bold",
    labelColor="black", titleColor="black", tickColor="black", domainColor="black",
    grid=False, labelFontSize=13, titleFontSize=15
)

chart.save("out.html", embed_options={"renderer": "svg", "actions": False})
